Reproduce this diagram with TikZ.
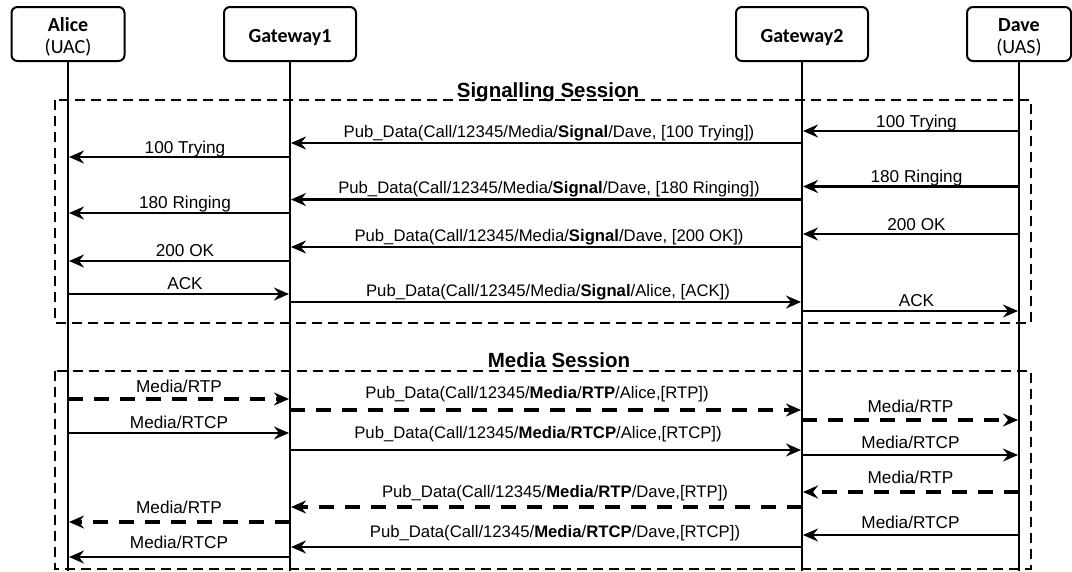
\documentclass[tikz,border=0pt]{standalone}
\usepackage{fontspec}
\setmainfont{Liberation Sans}
\newfontfamily\actorfont{Carlito}
\usetikzlibrary{arrows.meta, positioning}

\begin{document}
\begin{tikzpicture}[
  x=1pt, y=-1pt,
  actor/.style={draw, fill=white, rounded corners=6pt, line width=2pt, minimum width=113pt, minimum height=54pt, align=center, inner sep=2pt, text depth=0pt, font=\actorfont\fontsize{20}{22}\selectfont},
  one/.style={text height=17pt},
  two/.style={text height=38pt},
  life/.style={line width=2.6pt},
  session/.style={line width=2.2pt, dash pattern=on 10pt off 6pt},
  tip/.style={-{Stealth[length=15pt, width=13pt, inset=5pt]}, shorten >=1pt},
  sig/.style={tip, line width=2.5pt},
  rtcp/.style={tip, line width=2pt},
  rtp/.style={tip, line width=3.8pt, dash pattern=on 15pt off 11pt},
  lbl/.style={anchor=base, inner sep=0pt, font=\fontsize{17.2}{20}\selectfont},
  pub/.style={anchor=base, inner sep=0pt, font=\fontsize{16.7}{20}\selectfont},
  title/.style={anchor=base, inner sep=0pt, font=\fontsize{20.5}{24}\selectfont\bfseries}
]
  \useasboundingbox (0,0) rectangle (1072,571);

  % Session frames
  \draw[session] (55,100) rectangle (1031,323);
  \draw[session] (55,371) rectangle (1031,569);
  \node[title] (sigTitle) at (548,97) {Signalling Session};
  \node[title] (mediaTitle) at (559,367) {Media Session};

  % Actors and lifelines
  \node[actor, two] (alice) at (68,34) {\textbf{Alice}\\(UAC)};
  \node[actor, one, minimum width=132pt] (gw1) at (290,34) {\textbf{Gateway1}};
  \node[actor, one, minimum width=132pt] (gw2) at (802,34) {\textbf{Gateway2}};
  \node[actor, two, minimum width=104pt] (dave) at (1019,34) {\textbf{Dave}\\(UAS)};
  \coordinate (aliceEnd) at (68,571);
  \coordinate (gw1End) at (290,571);
  \coordinate (gw2End) at (802,571);
  \coordinate (daveEnd) at (1019,571);
  \draw[life] (alice) -- (aliceEnd);
  \draw[life] (gw1) -- (gw1End);
  \draw[life] (gw2) -- (gw2End);
  \draw[life] (dave) -- (daveEnd);

  % Signalling messages
  \draw[sig] (dave |- 0,131) -- node[lbl, yshift=3.5pt, xshift=6pt] {100 Trying} (gw2 |- 0,131);
  \draw[sig] (gw2 |- 0,143) -- node[pub, yshift=6pt, xshift=3pt] {Pub\_Data(Call/12345/Media/\textbf{Signal}/Dave, [100 Trying])} (gw1 |- 0,143);
  \draw[sig] (gw1 |- 0,157) -- node[lbl, yshift=3.5pt, xshift=6pt] {100 Trying} (alice |- 0,157);
  \draw[sig] (dave |- 0,186.5) -- node[lbl, yshift=4pt, xshift=6pt] {180 Ringing} (gw2 |- 0,186.5);
  \draw[sig] (gw2 |- 0,199.5) -- node[pub, yshift=6pt, xshift=3pt] {Pub\_Data(Call/12345/Media/\textbf{Signal}/Dave, [180 Ringing])} (gw1 |- 0,199.5);
  \draw[sig] (gw1 |- 0,213) -- node[lbl, yshift=5pt, xshift=6pt] {180 Ringing} (alice |- 0,213);
  \draw[sig] (dave |- 0,234) -- node[lbl, yshift=4pt, xshift=6pt] {200 OK} (gw2 |- 0,234);
  \draw[sig] (gw2 |- 0,247) -- node[pub, yshift=6pt, xshift=3pt] {Pub\_Data(Call/12345/Media/\textbf{Signal}/Dave, [200 OK])} (gw1 |- 0,247);
  \draw[sig] (gw1 |- 0,261) -- node[lbl, yshift=5pt, xshift=6pt] {200 OK} (alice |- 0,261);
  \draw[sig] (alice |- 0,294) -- node[lbl, yshift=5pt, xshift=6pt] {ACK} (gw1 |- 0,294);
  \draw[sig] (gw1 |- 0,302) -- node[pub, yshift=5.5pt, xshift=2pt] {Pub\_Data(Call/12345/Media/\textbf{Signal}/Alice, [ACK])} (gw2 |- 0,302);
  \draw[sig] (gw2 |- 0,311) -- node[lbl, yshift=5pt, xshift=6pt] {ACK} (dave |- 0,311);

  % Media messages, Alice to Dave
  \draw[rtp] (alice |- 0,399) -- node[lbl, yshift=7pt] {Media/RTP} (gw1 |- 0,399);
  \draw[rtp] (gw1 |- 0,410) -- node[pub, yshift=12pt, xshift=-9pt] {Pub\_Data(Call/12345/\textbf{Media}/\textbf{RTP}/Alice,[RTP])} (gw2 |- 0,410);
  \draw[rtp] (gw2 |- 0,420) -- node[lbl, yshift=8pt] {Media/RTP} (dave |- 0,420);
  \draw[rtcp] (alice |- 0,433) -- node[lbl, yshift=5pt] {Media/RTCP} (gw1 |- 0,433);
  \draw[rtcp] (gw1 |- 0,450) -- node[pub, yshift=12pt, xshift=-8pt] {Pub\_Data(Call/12345/\textbf{Media}/\textbf{RTCP}/Alice,[RTCP])} (gw2 |- 0,450);
  \draw[rtcp] (gw2 |- 0,455) -- node[lbl, yshift=7pt] {Media/RTCP} (dave |- 0,455);

  % Media messages, Dave to Alice
  \draw[rtp] (dave |- 0,492) -- node[lbl, yshift=9pt] {Media/RTP} (gw2 |- 0,492);
  \draw[rtp] (gw2 |- 0,507) -- node[pub, yshift=10pt, xshift=9pt] {Pub\_Data(Call/12345/\textbf{Media}/\textbf{RTP}/Dave,[RTP])} (gw1 |- 0,507);
  \draw[rtp] (gw1 |- 0,522) -- node[lbl, yshift=9pt] {Media/RTP} (alice |- 0,522);
  \draw[rtcp] (dave |- 0,535) -- node[lbl, yshift=7pt] {Media/RTCP} (gw2 |- 0,535);
  \draw[rtcp] (gw2 |- 0,547) -- node[pub, yshift=10pt, xshift=9pt] {Pub\_Data(Call/12345/\textbf{Media}/\textbf{RTCP}/Dave,[RTCP])} (gw1 |- 0,547);
  \draw[rtcp] (gw1 |- 0,557) -- node[lbl, yshift=9pt] {Media/RTCP} (alice |- 0,557);
\end{tikzpicture}
\end{document}
